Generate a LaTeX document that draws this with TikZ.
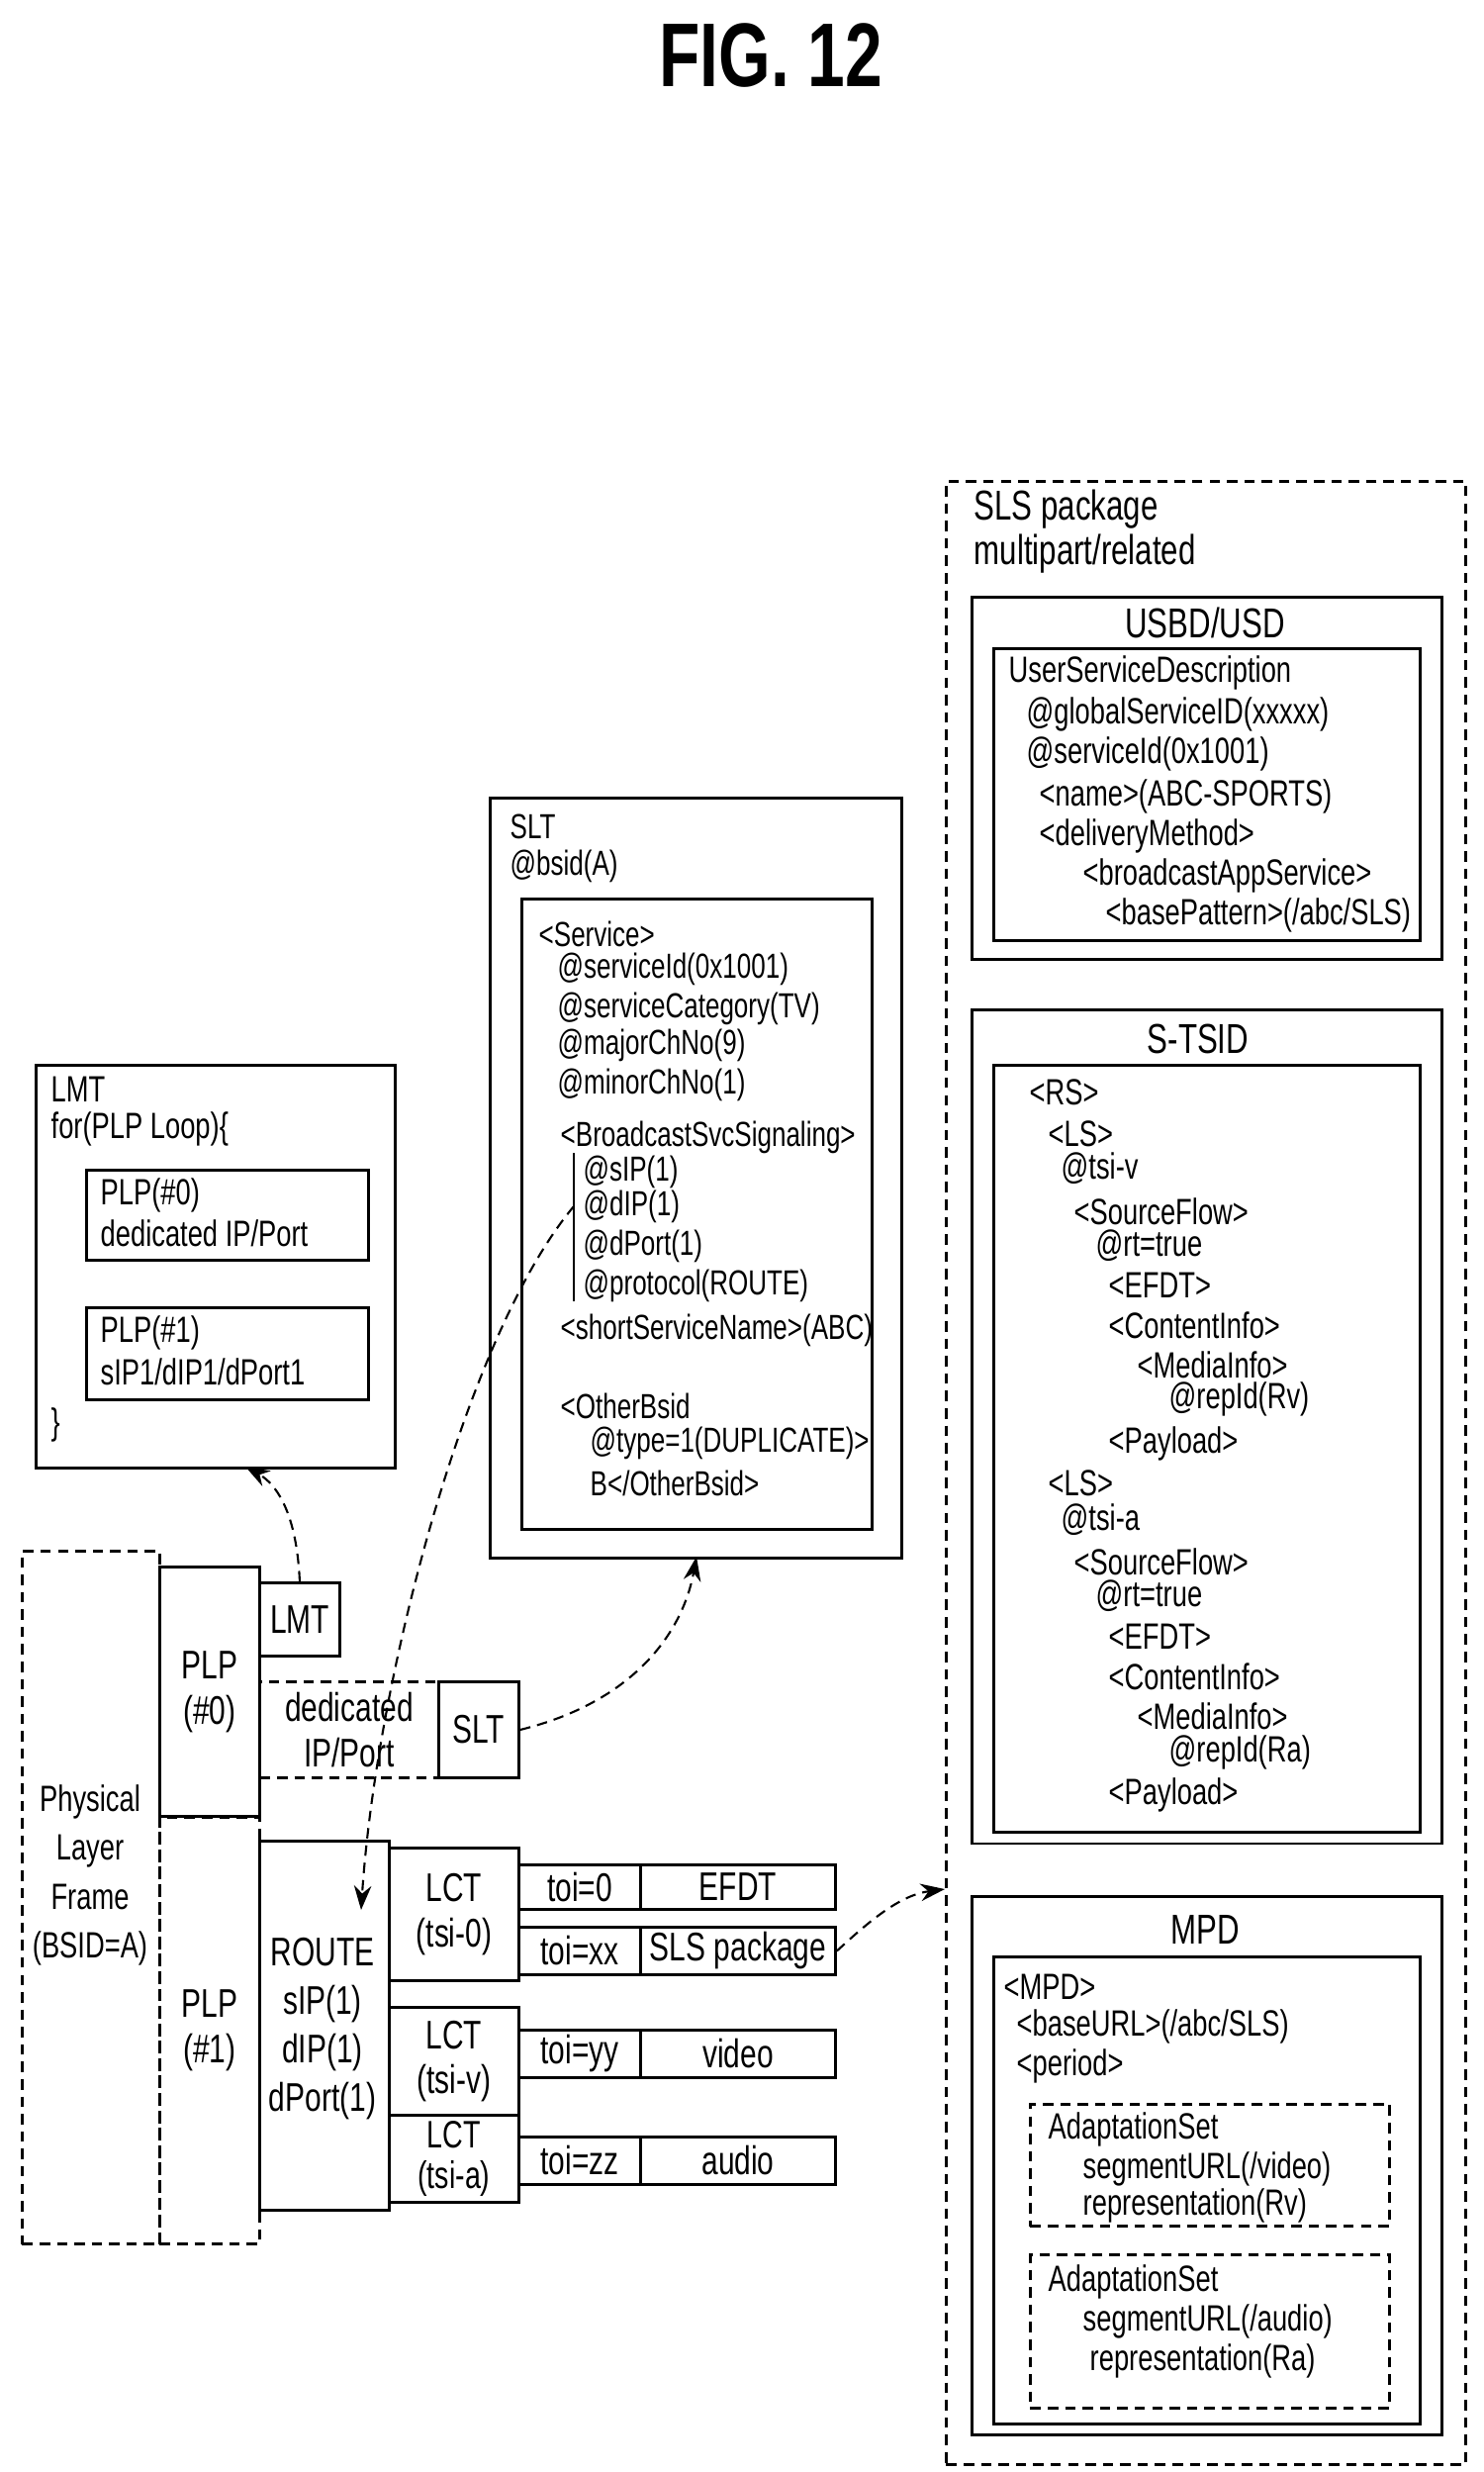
\documentclass[tikz,border=0pt]{standalone}
\usepackage{fontspec}
\setmainfont{Liberation Sans}[FakeStretch=0.74]
\usetikzlibrary{arrows.meta,positioning}

\tikzset{
  box/.style={draw, line width=0.8pt, inner sep=0pt, anchor=north west, align=center,
    font=\fontsize{11.5}{13}\selectfont},
  dbox/.style={box, dash pattern=on 3pt off 2pt},
  txt/.style={anchor=west, inner sep=0pt, font=\fontsize{10.5}{12}\selectfont},
  arr/.style={-{Stealth[length=7pt,width=5pt]}, line width=0.6pt, densely dashed},
}

\begin{document}
\begin{tikzpicture}[x=0.01cm, y=-0.01cm]
\useasboundingbox (0,0) rectangle (1499,2498);

% Title
\node[font=\fontsize{26}{30}\selectfont\bfseries] (title) at (779,56) {FIG. 12};

% SLS package
\node[dbox, minimum width=5.25cm, minimum height=20.03cm] (sls) at (955,485) {};
\node[txt, font=\fontsize{12}{14}\selectfont] (slsA) at (984,515) {SLS package};
\node[txt, font=\fontsize{12}{14}\selectfont] (slsB) at (984,560) {multipart/related};

% USBD/USD
\node[box, minimum width=4.75cm, minimum height=3.66cm] (usbdO) at (981,602) {};
\node[box, minimum width=4.31cm, minimum height=2.95cm] (usbdI) at (1003,654) {};
\node[font=\fontsize{12}{14}\selectfont] (usbdT) at (1218,629) {USBD/USD};
\foreach \x/\y/\t in {1019/680/{UserServiceDescription}, 1037/722/{@globalServiceID(xxxxx)},
  1037/762/{@serviceId(0x1001)}, 1050/805/{<name>(ABC-SPORTS)}, 1050/845/{<deliveryMethod>},
  1094/885/{<broadcastAppService>}, 1117/925/{<basePattern>(/abc/SLS)}}
  \node[txt] at (\x,\y) {\t};

% S-TSID
\node[box, minimum width=4.75cm, minimum height=8.42cm] (stsidO) at (981,1019) {};
\node[box, minimum width=4.31cm, minimum height=7.75cm] (stsidI) at (1003,1075) {};
\node[font=\fontsize{12}{14}\selectfont] (stsidT) at (1211,1050) {S-TSID};
\foreach \x/\y/\t in {1040/1104/{<RS>}, 1059/1146/{<LS>}, 1072/1181/{@tsi-v},
  1085/1224/{<SourceFlow>}, 1107/1259/{@rt=true}, 1120/1299/{<EFDT>}, 1120/1339/{<ContentInfo>},
  1149/1379/{<MediaInfo>}, 1181/1414/{@repId(Rv)}, 1120/1459/{<Payload>},
  1059/1499/{<LS>}, 1072/1536/{@tsi-a}, 1085/1578/{<SourceFlow>}, 1107/1613/{@rt=true},
  1120/1654/{<EFDT>}, 1120/1694/{<ContentInfo>}, 1149/1734/{<MediaInfo>},
  1181/1771/{@repId(Ra)}, 1120/1814/{<Payload>}}
  \node[txt] at (\x,\y) {\t};

% MPD
\node[box, minimum width=4.75cm, minimum height=5.44cm] (mpdO) at (981,1915) {};
\node[box, minimum width=4.31cm, minimum height=4.72cm] (mpdI) at (1003,1976) {};
\node[font=\fontsize{12}{14}\selectfont] (mpdT) at (1218,1950) {MPD};
\node[dbox, minimum width=3.63cm, minimum height=1.23cm] (as1) at (1040,2125) {};
\node[dbox, minimum width=3.63cm, minimum height=1.55cm] (as2) at (1040,2277) {};
\foreach \x/\y/\t in {1014/2008/{<MPD>}, 1027/2048/{<baseURL>(/abc/SLS)}, 1027/2088/{<period>},
  1059/2152/{AdaptationSet}, 1094/2192/{segmentURL(/video)}, 1094/2229/{representation(Rv)},
  1059/2306/{AdaptationSet}, 1094/2346/{segmentURL(/audio)}, 1101/2386/{representation(Ra)}}
  \node[txt] at (\x,\y) {\t};

% SLT
\node[box, minimum width=4.16cm, minimum height=7.68cm] (sltO) at (494,805) {};
\node[box, minimum width=3.54cm, minimum height=6.37cm] (sltI) at (526,907) {};
\foreach \x/\y/\t in {515/835/{SLT}, 515/875/{@bsid(A)}, 544/944/{<Service>},
  563/979/{@serviceId(0x1001)}, 563/1019/{@serviceCategory(TV)}, 563/1056/{@majorChNo(9)},
  563/1096/{@minorChNo(1)}, 566/1149/{<BroadcastSvcSignaling>}, 589/1184/{@sIP(1)},
  589/1219/{@dIP(1)}, 589/1259/{@dPort(1)}, 589/1299/{@protocol(ROUTE)},
  566/1344/{<shortServiceName>(ABC)}, 566/1421/{<OtherBsid}, 596/1458/{@type=1(DUPLICATE)>},
  596/1499/{B</OtherBsid>}}
  \node[txt, font=\fontsize{10}{12}\selectfont] at (\x,\y) {\t};
\draw[line width=0.6pt] (580,1165) -- (580,1315);

% LMT
\node[box, minimum width=3.63cm, minimum height=4.07cm] (lmtO) at (35,1075) {};
\node[box, minimum width=2.85cm, minimum height=0.91cm] (lp0) at (86,1181) {};
\node[box, minimum width=2.85cm, minimum height=0.93cm] (lp1) at (86,1320) {};
\foreach \x/\y/\t in {51/1101/{LMT}, 51/1141/{for(PLP Loop)\{}, 101/1208/{PLP(\#0)},
  101/1246/{dedicated IP/Port}, 101/1347/{PLP(\#1)}, 101/1386/{sIP1/dIP1/dPort1}, 51/1440/{\}}}
  \node[txt] at (\x,\y) {\t};

% Physical layer frame
\node[dbox, minimum width=1.39cm, minimum height=7.00cm] (phy) at (21,1566) {};
\node[align=center, font=\fontsize{10.5}{14}\selectfont] (phyT) at (91,1895) {Physical\\Layer\\Frame\\(BSID=A)};
\node[box, minimum width=1.01cm, minimum height=2.52cm] (plp0) at (160,1582) {PLP\\(\#0)};
\node[box, minimum width=0.81cm, minimum height=0.74cm] (lmtS) at (261,1598) {LMT};
\node[dbox, minimum width=1.81cm, minimum height=0.97cm] (ded) at (261,1698) {dedicated\\IP/Port};
\node[box, minimum width=0.81cm, minimum height=0.97cm] (sltS) at (442,1698) {SLT};
\node[dbox, minimum width=1.01cm, minimum height=4.31cm] (plp1) at (160,1835) {PLP\\(\#1)};
\node[box, minimum width=1.31cm, minimum height=3.73cm] (route) at (261,1859) {};
\node[align=center, font=\fontsize{11.5}{14}\selectfont] (routeT) at (326,2050) {ROUTE\\sIP(1)\\dIP(1)\\dPort(1)};
\node[box, minimum width=1.31cm, minimum height=1.34cm] (lct0) at (392,1866) {LCT\\(tsi-0)};
\node[box, minimum width=1.31cm, minimum height=1.09cm] (lctv) at (392,2027) {LCT\\(tsi-v)};
\node[box, minimum width=1.31cm, minimum height=0.88cm, font=\fontsize{11}{11.5}\selectfont] (lcta) at (392,2136) {LCT\\(tsi-a)};
\node[box, minimum width=1.23cm, minimum height=0.45cm] (toi0) at (523,1883) {toi=0};
\node[box, minimum width=1.97cm, minimum height=0.45cm] (efdt) at (646,1883) {EFDT};
\node[box, minimum width=1.23cm, minimum height=0.48cm] (toix) at (523,1946) {toi=xx};
\node[box, minimum width=1.97cm, minimum height=0.48cm] (pkg) at (646,1946) {SLS package};
\node[box, minimum width=1.23cm, minimum height=0.48cm] (toiy) at (523,2050) {toi=yy};
\node[box, minimum width=1.97cm, minimum height=0.48cm] (video) at (646,2050) {video};
\node[box, minimum width=1.23cm, minimum height=0.48cm] (toiz) at (523,2158) {toi=zz};
\node[box, minimum width=1.97cm, minimum height=0.48cm] (audio) at (646,2158) {audio};

% Connectors
\coordinate (lmtIn) at (248,1482);
\coordinate (sltIn) at (704,1573);
\coordinate (dipOut) at (580,1219);
\coordinate (routeIn) at (365,1930);
\coordinate (slsIn) at (955,1909);
\draw[arr] (lmtS.north) .. controls (300,1530) and (280,1500) .. (lmtIn);
\draw[arr] (sltS.east) .. controls (640,1720) and (690,1650) .. (sltIn);
\draw[arr] (dipOut) .. controls (470,1350) and (380,1700) .. (routeIn);
\draw[arr] (pkg.east) .. controls (880,1940) and (910,1915) .. (slsIn);

\end{tikzpicture}
\end{document}
